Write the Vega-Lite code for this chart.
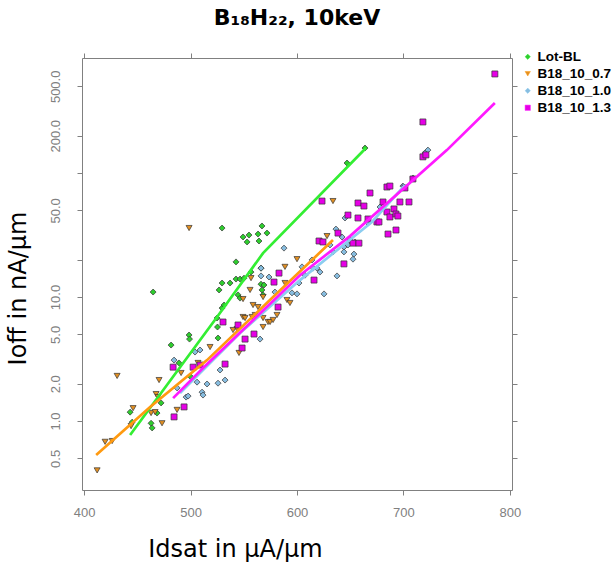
{
"$schema": "https://vega.github.io/schema/vega-lite/v6.json",
"width": 430, "height": 432,
"autosize": {"type": "none"},
"padding": {"left": 82, "top": 58, "right": 101, "bottom": 72},
"background": "white",
"config": {
 "view": {"stroke": "#808080", "strokeWidth": 1},
 "axis": {"grid": false, "domain": false, "tickColor": "#808080", "tickSize": 5, "labelColor": "#808080", "labelFont": "Liberation Sans", "labelFontSize": 13, "titleFont": "DejaVu Sans", "titleFontSize": 24, "titleFontWeight": "normal", "titleColor": "black"}
},
"title": {"text": "B₁₈H₂₂, 10keV", "font": "DejaVu Sans", "fontSize": 22, "fontWeight": "bold", "anchor": "middle", "offset": 20, "color": "black"},
"datasets": {
 "pts": [
  {"s":"Lot-BL","x":443.2,"y":1.18},{"s":"Lot-BL","x":445.1,"y":0.98},{"s":"Lot-BL","x":462.9,"y":0.96},{"s":"Lot-BL","x":463.9,"y":0.88},{"s":"Lot-BL","x":468.5,"y":1.16},{"s":"Lot-BL","x":472.3,"y":1.40},{"s":"Lot-BL","x":464.8,"y":10.97},{"s":"Lot-BL","x":481.7,"y":4.10},{"s":"Lot-BL","x":489.2,"y":2.94},{"s":"Lot-BL","x":498.6,"y":4.94},{"s":"Lot-BL","x":499.0,"y":4.58},{"s":"Lot-BL","x":500.5,"y":2.26},{"s":"Lot-BL","x":525.8,"y":4.67},{"s":"Lot-BL","x":524.9,"y":6.77},{"s":"Lot-BL","x":525.3,"y":5.73},{"s":"Lot-BL","x":529.6,"y":8.15},{"s":"Lot-BL","x":531.5,"y":8.62},{"s":"Lot-BL","x":526.8,"y":11.4},{"s":"Lot-BL","x":529.6,"y":12.97},{"s":"Lot-BL","x":537.1,"y":12.97},{"s":"Lot-BL","x":542.7,"y":13.96},{"s":"Lot-BL","x":546.5,"y":13.96},{"s":"Lot-BL","x":550.2,"y":14.2},{"s":"Lot-BL","x":556.8,"y":15.9},{"s":"Lot-BL","x":566.2,"y":17.1},{"s":"Lot-BL","x":542.7,"y":19.2},{"s":"Lot-BL","x":529.6,"y":36.0},{"s":"Lot-BL","x":549.3,"y":30.5},{"s":"Lot-BL","x":554.9,"y":31.6},{"s":"Lot-BL","x":553.1,"y":27.8},{"s":"Lot-BL","x":563.4,"y":32.2},{"s":"Lot-BL","x":567.1,"y":37.4},{"s":"Lot-BL","x":571.8,"y":32.8},{"s":"Lot-BL","x":564.3,"y":28.3},{"s":"Lot-BL","x":566.2,"y":12.7},{"s":"Lot-BL","x":569.0,"y":12.5},{"s":"Lot-BL","x":567.1,"y":11.4},{"s":"Lot-BL","x":568.1,"y":10.4},{"s":"Lot-BL","x":544.6,"y":10.4},{"s":"Lot-BL","x":546.5,"y":9.8},{"s":"Lot-BL","x":647.0,"y":120.4},{"s":"Lot-BL","x":663.9,"y":159},
  {"s":"B18_10_0.7","x":412.2,"y":0.40},{"s":"B18_10_0.7","x":419.7,"y":0.68},{"s":"B18_10_0.7","x":426.3,"y":0.69},{"s":"B18_10_0.7","x":431.0,"y":2.31},{"s":"B18_10_0.7","x":444.1,"y":0.91},{"s":"B18_10_0.7","x":446.0,"y":1.27},{"s":"B18_10_0.7","x":462.9,"y":1.16},{"s":"B18_10_0.7","x":466.7,"y":1.18},{"s":"B18_10_0.7","x":467.6,"y":1.65},{"s":"B18_10_0.7","x":469.5,"y":1.56},{"s":"B18_10_0.7","x":470.4,"y":2.14},{"s":"B18_10_0.7","x":473.2,"y":0.96},{"s":"B18_10_0.7","x":487.3,"y":1.23},{"s":"B18_10_0.7","x":491.1,"y":2.44},{"s":"B18_10_0.7","x":498.6,"y":36.0},{"s":"B18_10_0.7","x":507.0,"y":2.94},{"s":"B18_10_0.7","x":518.3,"y":3.95},{"s":"B18_10_0.7","x":539.9,"y":5.42},{"s":"B18_10_0.7","x":543.7,"y":5.52},{"s":"B18_10_0.7","x":545.5,"y":3.54},{"s":"B18_10_0.7","x":549.3,"y":6.90},{"s":"B18_10_0.7","x":551.2,"y":6.77},{"s":"B18_10_0.7","x":557.8,"y":6.90},{"s":"B18_10_0.7","x":560.6,"y":7.16},{"s":"B18_10_0.7","x":549.3,"y":9.63},{"s":"B18_10_0.7","x":555.9,"y":11.4},{"s":"B18_10_0.7","x":556.8,"y":14.2},{"s":"B18_10_0.7","x":558.7,"y":8.62},{"s":"B18_10_0.7","x":563.4,"y":8.30},{"s":"B18_10_0.7","x":568.1,"y":10.0},{"s":"B18_10_0.7","x":568.1,"y":6.77},{"s":"B18_10_0.7","x":568.1,"y":5.73},{"s":"B18_10_0.7","x":572.8,"y":6.29},{"s":"B18_10_0.7","x":574.7,"y":6.29},{"s":"B18_10_0.7","x":577.5,"y":6.53},{"s":"B18_10_0.7","x":581.2,"y":7.16},{"s":"B18_10_0.7","x":588.7,"y":17.5},{"s":"B18_10_0.7","x":588.7,"y":12.97},{"s":"B18_10_0.7","x":590.6,"y":9.46},{"s":"B18_10_0.7","x":593.4,"y":8.95},{"s":"B18_10_0.7","x":600.0,"y":20.2},{"s":"B18_10_0.7","x":628.2,"y":31.0},{"s":"B18_10_0.7","x":633.8,"y":59.4},
  {"s":"B18_10_1.0","x":484.5,"y":3.10},{"s":"B18_10_1.0","x":487.3,"y":1.85},{"s":"B18_10_1.0","x":495.8,"y":1.56},{"s":"B18_10_1.0","x":497.7,"y":1.59},{"s":"B18_10_1.0","x":506.1,"y":2.06},{"s":"B18_10_1.0","x":510.8,"y":1.71},{"s":"B18_10_1.0","x":511.7,"y":1.62},{"s":"B18_10_1.0","x":515.5,"y":1.99},{"s":"B18_10_1.0","x":525.8,"y":2.02},{"s":"B18_10_1.0","x":532.4,"y":2.14},{"s":"B18_10_1.0","x":527.7,"y":2.58},{"s":"B18_10_1.0","x":508.9,"y":3.74},{"s":"B18_10_1.0","x":504.2,"y":3.60},{"s":"B18_10_1.0","x":565.3,"y":4.58},{"s":"B18_10_1.0","x":566.2,"y":17.1},{"s":"B18_10_1.0","x":566.2,"y":14.8},{"s":"B18_10_1.0","x":573.7,"y":14.5},{"s":"B18_10_1.0","x":579.3,"y":10.97},{"s":"B18_10_1.0","x":587.8,"y":24.8},{"s":"B18_10_1.0","x":595.3,"y":10.8},{"s":"B18_10_1.0","x":600.0,"y":10.6},{"s":"B18_10_1.0","x":601.9,"y":12.97},{"s":"B18_10_1.0","x":604.7,"y":17.5},{"s":"B18_10_1.0","x":607.5,"y":15.0},{"s":"B18_10_1.0","x":614.1,"y":19.9},{"s":"B18_10_1.0","x":615.0,"y":17.1},{"s":"B18_10_1.0","x":618.8,"y":17.1},{"s":"B18_10_1.0","x":621.6,"y":15.9},{"s":"B18_10_1.0","x":625.4,"y":10.6},{"s":"B18_10_1.0","x":631.0,"y":26.3},{"s":"B18_10_1.0","x":633.8,"y":23.1},{"s":"B18_10_1.0","x":636.6,"y":35.3},{"s":"B18_10_1.0","x":637.6,"y":14.8},{"s":"B18_10_1.0","x":642.3,"y":30.5},{"s":"B18_10_1.0","x":644.1,"y":25.3},{"s":"B18_10_1.0","x":644.1,"y":23.1},{"s":"B18_10_1.0","x":645.1,"y":43.4},{"s":"B18_10_1.0","x":647.9,"y":26.3},{"s":"B18_10_1.0","x":649.8,"y":28.8},{"s":"B18_10_1.0","x":652.6,"y":20.2},{"s":"B18_10_1.0","x":653.5,"y":22.2},{"s":"B18_10_1.0","x":654.4,"y":27.8},{"s":"B18_10_1.0","x":665.7,"y":40.3},{"s":"B18_10_1.0","x":678.0,"y":53.2},{"s":"B18_10_1.0","x":699.5,"y":78.5},{"s":"B18_10_1.0","x":708.9,"y":91.2},{"s":"B18_10_1.0","x":720.2,"y":145},{"s":"B18_10_1.0","x":723.0,"y":153},
  {"s":"B18_10_1.3","x":483.6,"y":2.72},{"s":"B18_10_1.3","x":502.4,"y":2.72},{"s":"B18_10_1.3","x":493.9,"y":1.30},{"s":"B18_10_1.3","x":484.5,"y":1.08},{"s":"B18_10_1.3","x":508.9,"y":2.83},{"s":"B18_10_1.3","x":530.5,"y":6.29},{"s":"B18_10_1.3","x":544.6,"y":5.95},{"s":"B18_10_1.3","x":559.6,"y":5.03},{"s":"B18_10_1.3","x":551.2,"y":4.58},{"s":"B18_10_1.3","x":548.4,"y":3.88},{"s":"B18_10_1.3","x":532.4,"y":2.88},{"s":"B18_10_1.3","x":583.1,"y":15.6},{"s":"B18_10_1.3","x":578.4,"y":13.2},{"s":"B18_10_1.3","x":582.2,"y":8.30},{"s":"B18_10_1.3","x":616.0,"y":13.7},{"s":"B18_10_1.3","x":623.5,"y":59.4},{"s":"B18_10_1.3","x":620.7,"y":28.3},{"s":"B18_10_1.3","x":624.4,"y":27.8},{"s":"B18_10_1.3","x":638.5,"y":32.8},{"s":"B18_10_1.3","x":644.1,"y":18.5},{"s":"B18_10_1.3","x":647.9,"y":45.8},{"s":"B18_10_1.3","x":652.6,"y":27.2},{"s":"B18_10_1.3","x":658.2,"y":27.2},{"s":"B18_10_1.3","x":657.3,"y":57.3},{"s":"B18_10_1.3","x":662.9,"y":54.2},{"s":"B18_10_1.3","x":657.3,"y":43.4},{"s":"B18_10_1.3","x":666.7,"y":42.6},{"s":"B18_10_1.3","x":668.6,"y":69.0},{"s":"B18_10_1.3","x":675.1,"y":40.3},{"s":"B18_10_1.3","x":677.0,"y":40.3},{"s":"B18_10_1.3","x":680.8,"y":58.4},{"s":"B18_10_1.3","x":684.5,"y":77.1},{"s":"B18_10_1.3","x":687.3,"y":78.5},{"s":"B18_10_1.3","x":684.5,"y":48.5},{"s":"B18_10_1.3","x":685.5,"y":32.2},{"s":"B18_10_1.3","x":687.3,"y":44.2},{"s":"B18_10_1.3","x":691.1,"y":51.3},{"s":"B18_10_1.3","x":693.0,"y":46.7},{"s":"B18_10_1.3","x":694.8,"y":45.0},{"s":"B18_10_1.3","x":693.0,"y":34.7},{"s":"B18_10_1.3","x":696.7,"y":58.4},{"s":"B18_10_1.3","x":705.2,"y":58.4},{"s":"B18_10_1.3","x":701.4,"y":75.7},{"s":"B18_10_1.3","x":708.9,"y":89.5},{"s":"B18_10_1.3","x":718.3,"y":135},{"s":"B18_10_1.3","x":721.1,"y":140},{"s":"B18_10_1.3","x":718.3,"y":258},{"s":"B18_10_1.3","x":785.9,"y":629}
 ],
 "fit": [
  {"g":"Lot-BL","x":443.2,"y":0.771},{"g":"Lot-BL","x":524.9,"y":6.90},{"g":"Lot-BL","x":568.1,"y":22.6},{"g":"Lot-BL","x":664.8,"y":159},
  {"g":"B18_10_0.7","x":411.3,"y":0.532},{"g":"B18_10_0.7","x":462.0,"y":1.30},{"g":"B18_10_0.7","x":515.5,"y":3.10},{"g":"B18_10_0.7","x":574.6,"y":9.46},{"g":"B18_10_0.7","x":633.8,"y":28.8},
  {"g":"B18_10_1.0","x":490.1,"y":1.68},{"g":"B18_10_1.0","x":546.5,"y":5.13},{"g":"B18_10_1.0","x":602.8,"y":13.7},{"g":"B18_10_1.0","x":670.4,"y":40.3},{"g":"B18_10_1.0","x":701.4,"y":80.0},
  {"g":"B18_10_1.3","x":483.6,"y":1.53},{"g":"B18_10_1.3","x":511.7,"y":2.68},{"g":"B18_10_1.3","x":602.8,"y":15.0},{"g":"B18_10_1.3","x":649.8,"y":31.0},{"g":"B18_10_1.3","x":740.8,"y":153},{"g":"B18_10_1.3","x":785.9,"y":367}
 ]
},
"layer": [
 {
  "data": {"name": "pts"},
  "mark": {"type": "point", "filled": true, "size": 36, "stroke": "#333333", "strokeWidth": 0.7, "opacity": 1},
  "encoding": {
   "x": {"field": "x", "type": "quantitative", "scale": {"domain": [398, 802], "nice": false, "zero": false},
         "axis": {"orient": "bottom", "values": [400, 500, 600, 700, 800], "labelPadding": 11, "title": "Idsat in μA/μm", "titleX": 153, "titleY": 66, "titleAlign": "center", "titleBaseline": "alphabetic"}},
   "y": {"field": "y", "type": "quantitative", "scale": {"type": "log", "domain": [0.278, 846], "nice": false},
         "axis": {"orient": "left", "values": [0.5, 1, 2, 5, 10, 20, 50, 100, 200, 500], "labelAngle": -90, "labelAlign": "center", "labelBaseline": "bottom", "labelPadding": 15, "labelExpr": "(datum.value == 20 || datum.value == 100) ? '' : format(datum.value, '.1f')", "title": "Ioff in nA/μm", "titleX": -57, "titleY": 230, "titleAngle": -90, "titleAlign": "center", "titleBaseline": "alphabetic"}},
   "color": {"field": "s", "type": "nominal",
             "scale": {"domain": ["Lot-BL", "B18_10_0.7", "B18_10_1.0", "B18_10_1.3"], "range": ["#2ecc2e", "#e39022", "#87bde0", "#e600e6"]},
             "legend": {"title": null, "orient": "none", "legendX": 439, "legendY": -8, "labelFont": "Liberation Sans", "labelFontSize": 13.5, "labelFontWeight": "bold", "labelColor": "black", "symbolSize": 28, "symbolStrokeWidth": 0.5, "rowPadding": 2, "labelOffset": 3, "padding": 0}},
   "shape": {"field": "s", "type": "nominal",
             "scale": {"domain": ["Lot-BL", "B18_10_0.7", "B18_10_1.0", "B18_10_1.3"], "range": ["diamond", "triangle-down", "diamond", "square"]},
             "legend": {"title": null, "orient": "none", "legendX": 439, "legendY": -8, "labelFont": "Liberation Sans", "labelFontSize": 13.5, "labelFontWeight": "bold", "labelColor": "black", "symbolSize": 28, "symbolStrokeWidth": 0.5, "rowPadding": 2, "labelOffset": 3, "padding": 0}}
  }
 },
 {
  "data": {"name": "fit"},
  "mark": {"type": "line", "strokeWidth": 2.7},
  "encoding": {
   "x": {"field": "x", "type": "quantitative", "scale": {"domain": [398, 802], "nice": false, "zero": false},
         "axis": {"orient": "top", "values": [400, 500, 600, 700, 800], "labels": false, "title": null}},
   "y": {"field": "y", "type": "quantitative", "scale": {"type": "log", "domain": [0.278, 846], "nice": false},
         "axis": {"orient": "right", "values": [0.5, 1, 2, 5, 10, 20, 50, 100, 200, 500], "labels": false, "title": null}},
   "stroke": {"field": "g", "type": "nominal",
             "scale": {"domain": ["Lot-BL", "B18_10_0.7", "B18_10_1.0", "B18_10_1.3"], "range": ["#33ee33", "#ff9a10", "#8ccdf0", "#ff1aff"]},
             "legend": null}
  }
 }
],
"resolve": {"axis": {"x": "independent", "y": "independent"}}
}
